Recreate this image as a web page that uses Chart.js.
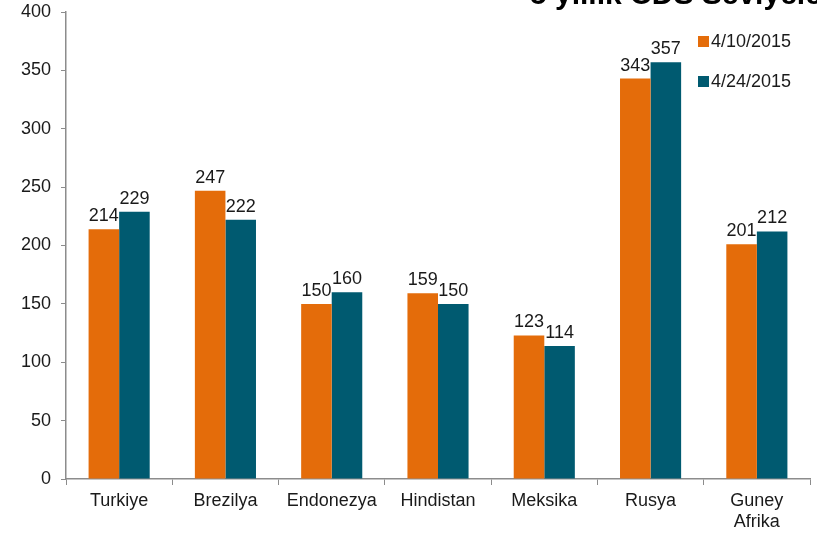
<!DOCTYPE html>
<html>
<head>
<meta charset="utf-8">
<script src="https://cdn.jsdelivr.net/npm/chart.js@4/dist/chart.umd.min.js"></script>
<style>
html,body{margin:0;padding:0;background:#fff;}
#wrap{width:817px;height:534px;position:relative;}
</style>
</head>
<body>
<div id="wrap"><canvas id="c" width="817" height="534"></canvas></div>
<script>
const categories = ["Turkiye", "Brezilya", "Endonezya", "Hindistan", "Meksika", "Rusya", ["Guney", "Afrika"]];
const seriesNames = ["4/10/2015", "4/24/2015"];
const values0410 = [214, 247, 150, 159, 123, 343, 201];
const values0424 = [229, 222, 160, 150, 114, 357, 212];
const yTicks = [0, 50, 100, 150, 200, 250, 300, 350, 400];
const titleText = "5 yıllık CDS Seviyeleri";

const COLORS = ["#E46C0A", "#005A70"];
const FONT = "'Liberation Sans', Arial, sans-serif";
const FS = 18;

const overlayPlugin = {
  id: "overlay",
  afterDatasetsDraw(chart) {
    const ctx = chart.ctx;
    ctx.save();
    // value labels
    ctx.font = FS + "px " + FONT;
    ctx.fillStyle = "#1a1a1a";
    ctx.textAlign = "center";
    ctx.textBaseline = "alphabetic";
    chart.data.datasets.forEach((ds, i) => {
      const meta = chart.getDatasetMeta(i);
      meta.data.forEach((bar, j) => {
        ctx.fillText(String(ds.data[j]), bar.x, bar.y - 8);
      });
    });
    // legend
    const lx = 698, ly = [42, 82];
    chart.data.datasets.forEach((ds, i) => {
      ctx.fillStyle = ds.backgroundColor;
      ctx.fillRect(lx, ly[i] - 6, 11, 11);
      ctx.fillStyle = "#1a1a1a";
      ctx.textAlign = "left";
      ctx.textBaseline = "middle";
      ctx.fillText(ds.label, lx + 13, ly[i]);
    });
    // title (cut at the top of the picture)
    ctx.font = "bold 30px " + FONT;
    ctx.fillStyle = "#000";
    ctx.textAlign = "left";
    ctx.textBaseline = "alphabetic";
    ctx.fillText(titleText, 530, 4);
    ctx.restore();
  }
};

new Chart(document.getElementById("c"), {
  type: "bar",
  data: {
    labels: categories,
    datasets: [
      { label: seriesNames[0], data: values0410, backgroundColor: COLORS[0] },
      { label: seriesNames[1], data: values0424, backgroundColor: COLORS[1] }
    ]
  },
  options: {
    responsive: false,
    animation: false,
    devicePixelRatio: 1,
    layout: { padding: { left: 0, right: 7, top: 12, bottom: 0 } },
    plugins: { legend: { display: false }, tooltip: { enabled: false } },
    datasets: { bar: { categoryPercentage: 0.575, barPercentage: 1.0 } },
    scales: {
      x: {
        offset: true,
        grid: { display: true, drawOnChartArea: false, offset: true, color: "#8c8c8c", tickLength: 6 },
        border: { color: "#8c8c8c", width: 1.5 },
        ticks: { color: "#1a1a1a", font: { family: FONT, size: FS, lineHeight: 1.15 }, padding: 6, maxRotation: 0, autoSkip: false },
        afterFit: s => { s.height = 55; s.paddingLeft = 0; s.paddingRight = 0; }
      },
      y: {
        min: 0, max: 400,
        afterBuildTicks: s => { s.ticks = yTicks.map(v => ({ value: v })); },
        grid: { display: true, drawOnChartArea: false, color: "#8c8c8c", tickLength: 5 },
        border: { color: "#8c8c8c", width: 1.5 },
        ticks: { color: "#1a1a1a", font: { family: FONT, size: FS }, padding: 10 },
        afterFit: s => { s.width = 66; s.paddingTop = 0; s.paddingBottom = 0; }
      }
    }
  },
  plugins: [overlayPlugin]
});
</script>
</body>
</html>
